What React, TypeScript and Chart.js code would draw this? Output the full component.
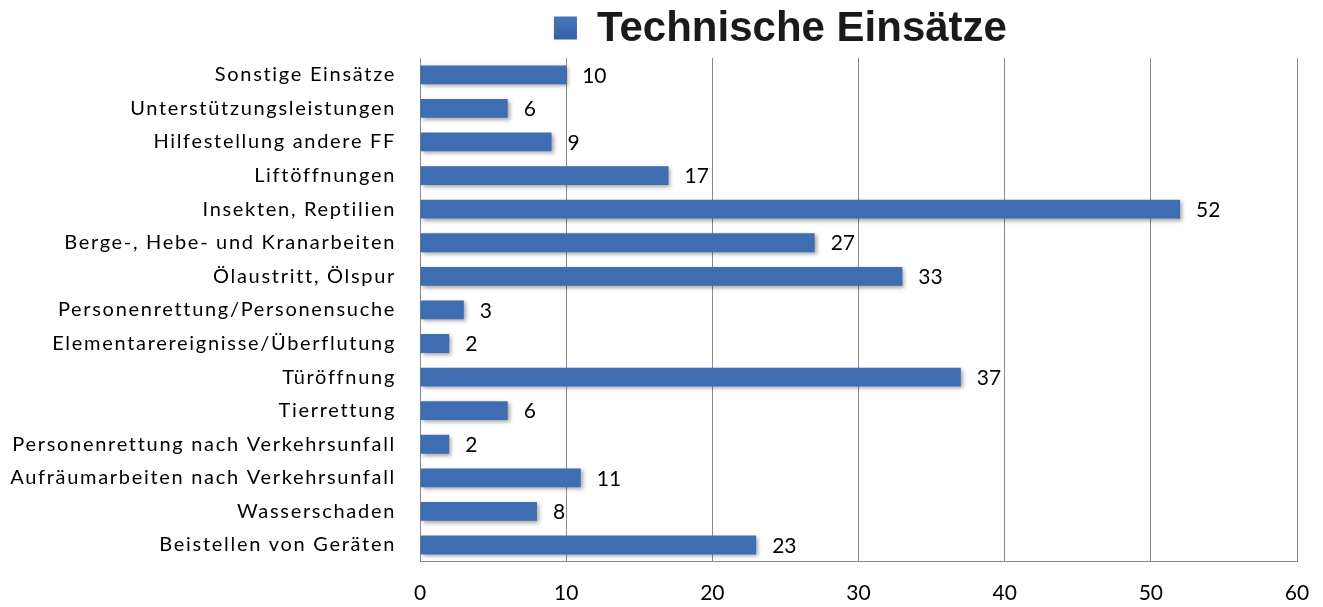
import React, { useEffect, useRef } from "react";
import { Chart, registerables } from "chart.js";

Chart.register(...registerables);

const categories: string[] = [
  "Sonstige Einsätze",
  "Unterstützungsleistungen",
  "Hilfestellung andere FF",
  "Liftöffnungen",
  "Insekten, Reptilien",
  "Berge-, Hebe- und Kranarbeiten",
  "Ölaustritt, Ölspur",
  "Personenrettung/Personensuche",
  "Elementarereignisse/Überflutung",
  "Türöffnung",
  "Tierrettung",
  "Personenrettung nach Verkehrsunfall",
  "Aufräumarbeiten nach Verkehrsunfall",
  "Wasserschaden",
  "Beistellen von Geräten",
];

const values: number[] = [10, 6, 9, 17, 52, 27, 33, 3, 2, 37, 6, 2, 11, 8, 23];

const seriesName = "Technische Einsätze";
const xTicks: number[] = [0, 10, 20, 30, 40, 50, 60];

const BAR_COLOR = "#3E6DB2";
const LABEL_FONT = 'Lato, "Open Sans", sans-serif';
const Y_LETTER_SPACING = "1.7px";

const shadowPlugin = {
  id: "barShadow",
  beforeDatasetsDraw(chart: any) {
    const ctx = chart.ctx;
    ctx.save();
    ctx.shadowColor = "rgba(0,0,0,0.35)";
    ctx.shadowBlur = 4;
    ctx.shadowOffsetX = 2;
    ctx.shadowOffsetY = 2;
  },
  afterDatasetsDraw(chart: any) {
    chart.ctx.restore();
  },
};

const valueLabelPlugin = {
  id: "valueLabels",
  afterDatasetsDraw(chart: any) {
    const ctx = chart.ctx;
    const meta = chart.getDatasetMeta(0);
    ctx.save();
    ctx.font = `21px ${LABEL_FONT}`;
    ctx.fillStyle = "#000";
    ctx.textAlign = "left";
    ctx.textBaseline = "middle";
    meta.data.forEach((bar: any, i: number) => {
      ctx.fillText(String(values[i]), bar.x + 16, bar.y + 1);
    });
    ctx.restore();
  },
};

const headerPlugin = {
  id: "header",
  afterDraw(chart: any) {
    const ctx = chart.ctx;
    ctx.save();
    ctx.font = 'bold 42px "Liberation Sans", Arial, sans-serif';
    const textW = ctx.measureText(seriesName).width;
    const box = 23;
    const gap = 20;
    const total = box + gap + textW;
    const cx = chart.chartArea.left + (chart.chartArea.right - chart.chartArea.left) * 0.411;
    const x0 = cx - total / 2;
    const cy = 28;
    const grad = ctx.createLinearGradient(0, cy - box / 2, 0, cy + box / 2);
    grad.addColorStop(0, "#4677BD");
    grad.addColorStop(1, "#3461A3");
    ctx.fillStyle = grad;
    ctx.fillRect(x0, cy - box / 2, box, box);
    ctx.fillStyle = "#1a1a1a";
    ctx.textAlign = "left";
    ctx.textBaseline = "middle";
    ctx.fillText(seriesName, x0 + box + gap, cy + 1);
    ctx.restore();
  },
};

export default function App() {
  const canvasRef = useRef<HTMLCanvasElement | null>(null);

  useEffect(() => {
    if (!canvasRef.current) return;
    const chart = new Chart(canvasRef.current, {
      type: "bar",
      data: {
        labels: categories,
        datasets: [
          {
            label: seriesName,
            data: values,
            backgroundColor: BAR_COLOR,
            borderWidth: 0,
            categoryPercentage: 1,
            barPercentage: 0.56,
          },
        ],
      },
      options: {
        indexAxis: "y",
        animation: false,
        responsive: true,
        maintainAspectRatio: false,
        layout: { padding: { top: 58, right: 26, bottom: -18, left: 8 } },
        plugins: {
          legend: { display: false },
          tooltip: { enabled: false },
        },
        scales: {
          x: {
            min: 0,
            max: 60,
            afterBuildTicks(scale: any) {
              scale.ticks = xTicks.map((v) => ({ value: v }));
            },
            afterFit(scale: any) {
              scale.paddingLeft = 0;
              scale.paddingRight = 0;
            },
            grid: {
              color: "#8a8a8a",
              lineWidth: 1,
              drawTicks: false,
            },
            border: { display: true, color: "#8a8a8a", width: 1 },
            ticks: {
              color: "#000",
              font: { family: LABEL_FONT, size: 21 },
              padding: 19,
            },
          },
          y: {
            afterFit(scale: any) {
              scale.width = 412;
              scale.paddingTop = 0;
              scale.paddingBottom = 0;
              if (!scale.__spaced) {
                scale.__spaced = true;
                const orig = scale.drawLabels;
                scale.drawLabels = function (area: any) {
                  const ctx = this.ctx;
                  ctx.save();
                  ctx.letterSpacing = Y_LETTER_SPACING;
                  orig.call(this, area);
                  ctx.restore();
                };
              }
            },
            grid: { display: false, drawTicks: false },
            border: { display: true, color: "#8a8a8a", width: 1 },
            ticks: {
              color: "#000",
              font: { family: LABEL_FONT, size: 20 },
              padding: 24,
              autoSkip: false,
            },
          },
        },
      },
      plugins: [shadowPlugin, valueLabelPlugin, headerPlugin],
    });
    return () => chart.destroy();
  }, []);

  return (
    <div style={{ position: "fixed", left: 0, top: 0, width: 1323, height: 607 }}>
      <canvas ref={canvasRef} />
    </div>
  );
}
